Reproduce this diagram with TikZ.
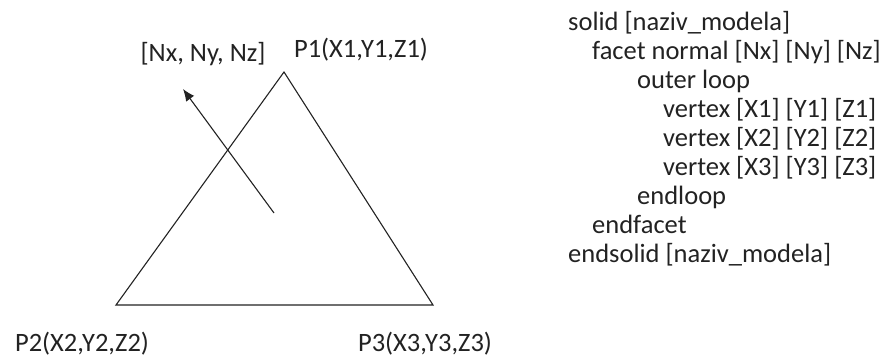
\documentclass[tikz,border=0pt]{standalone}
\usepackage{fontspec}
\setmainfont{Carlito}
\usetikzlibrary{arrows.meta}
\definecolor{ink}{HTML}{222222}
\begin{document}
\begin{tikzpicture}[x=1pt,y=-1pt,
  lbl/.style={font=\fontsize{26.5}{30}\selectfont, inner sep=0pt, text=ink, anchor=base},
  code/.style={font=\fontsize{26.5}{30}\selectfont, inner sep=0pt, anchor=base west, text=ink},
  edge/.style={line width=1.1pt, draw=ink},
  normalarrow/.style={line width=1.1pt, draw=ink, -{Latex[length=12pt,width=10pt]}}]
\useasboundingbox (0,0) rectangle (892,358);
\coordinate (p1) at (284,72);
\coordinate (p2) at (116,305);
\coordinate (p3) at (433,305);
\draw[edge] (p1) -- (p2) -- (p3) -- cycle;
\coordinate (ns) at (274,213);
\coordinate (ne) at (183,89);
\draw[normalarrow] (ns) -- (ne);
\node[lbl] (n) at (203,62) {[Nx, Ny, Nz]};
\node[lbl] (l1) at (361,58) {P1(X1,Y1,Z1)};
\node[lbl] (l2) at (82,351) {P2(X2,Y2,Z2)};
\node[lbl] (l3) at (425,351) {P3(X3,Y3,Z3)};
\node[code] (c1) at (568,31) {solid [naziv\_modela]};
\node[code] (c2) at (592,60) {facet normal [Nx] [Ny] [Nz]};
\node[code] (c3) at (637,89) {outer loop};
\node[code] (c4) at (663,118) {vertex [X1] [Y1] [Z1]};
\node[code] (c5) at (663,147) {vertex [X2] [Y2] [Z2]};
\node[code] (c6) at (663,176) {vertex [X3] [Y3] [Z3]};
\node[code] (c7) at (637,205) {endloop};
\node[code] (c8) at (592,234) {endfacet};
\node[code] (c9) at (568,263) {endsolid [naziv\_modela]};
\end{tikzpicture}
\end{document}
